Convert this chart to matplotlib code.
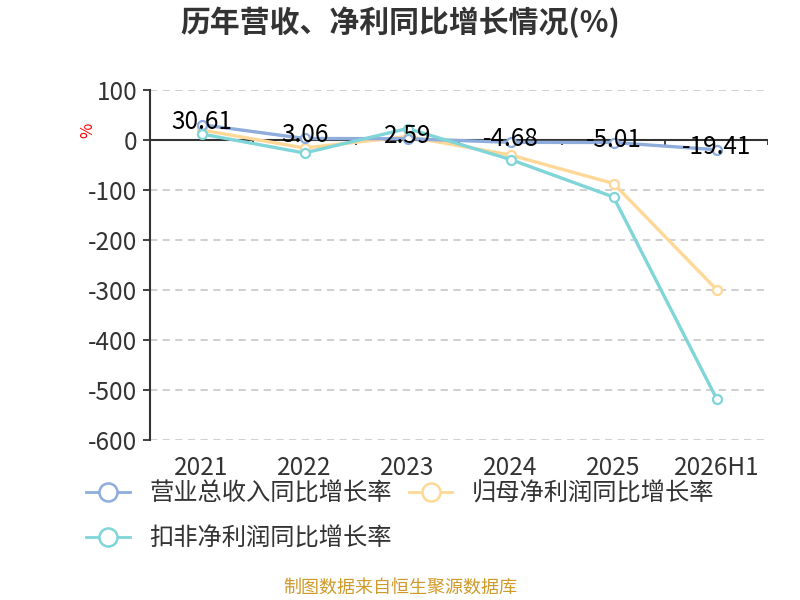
import matplotlib
matplotlib.use("Agg")
import matplotlib.pyplot as plt
from matplotlib.lines import Line2D
import numpy as np

plt.rcParams['font.family'] = ['Noto Sans CJK SC', 'DejaVu Sans']
plt.rcParams['axes.unicode_minus'] = False

categories = ['2021', '2022', '2023', '2024', '2025', '2026H1']
revenue_growth = [30.61, 3.06, 2.59, -4.68, -5.01, -19.41]
netprofit_growth = [20, -16, 7, -30, -87, -299]
deducted_growth = [12, -26, 23, -39, -114, -517]
series_names = ['营业总收入同比增长率', '归母净利润同比增长率', '扣非净利润同比增长率']
colors = ['#8EADDC', '#FFD796', '#80D5D8']
yticks = [100, 0, -100, -200, -300, -400, -500, -600]

fig = plt.figure(figsize=(8, 6), dpi=100)
ax = fig.add_axes([150/800, 1-440/600, (768-150)/800, (440-90)/600])

x = np.arange(len(categories))
ax.set_xlim(-0.5, len(categories)-0.5)
ax.set_ylim(-600, 100)

for yt in yticks:
    ax.axhline(yt, color='#CCCCCC', lw=1.3, dashes=(4, 3), zorder=1)
ax.axhline(0, color='#333333', lw=1.5, zorder=2)
bounds = np.arange(-0.5, len(categories)+0.5, 1.0)
ax.vlines(bounds[1:], -10, 0, color='#333333', lw=1.3, zorder=2)

for vals, c, z in zip([revenue_growth, netprofit_growth, deducted_growth], colors, [4, 3, 5]):
    ax.plot(x, vals, color=c, lw=2.4, marker='o', markersize=6.5,
            markerfacecolor='white', markeredgecolor=c, markeredgewidth=1.6, zorder=z)

for xi, v in zip(x, revenue_growth):
    ax.annotate(f'{v:.2f}', (xi, v), xytext=(0, 3), textcoords='offset pixels',
                ha='center', va='center', fontsize=17.5, color='#000000', zorder=6)

for s in ['top', 'right', 'bottom']:
    ax.spines[s].set_visible(False)
ax.spines['left'].set_color('#333333')
ax.spines['left'].set_linewidth(1.5)

ax.set_yticks(yticks)
ax.set_yticklabels([str(t) for t in yticks])
ax.tick_params(axis='y', length=5, width=1.3, color='#333333', labelsize=17.5, labelcolor='#333333', pad=4)
ax.set_xticks(x)
ax.set_xticklabels(categories)
ax.tick_params(axis='x', length=0, labelsize=17.5, labelcolor='#333333', pad=11)

fig.text(0.5, 1-22/600, '历年营收、净利同比增长情况(%)', ha='center', va='center',
         fontsize=21.5, fontweight='bold', color='#333333')
fig.text(88/800, 1-130/600, '%', ha='center', va='center', rotation=90, fontsize=12, color='#FF0000')
fig.text(0.5, 1-588/600, '制图数据来自恒生聚源数据库', ha='center', va='center',
         fontsize=13, color='#D09A2A')

handles = [Line2D([], [], color=c, lw=2, marker='o', markersize=13,
                  markerfacecolor='white', markeredgecolor=c, markeredgewidth=1.8)
           for c in colors]
order = [0, 2, 1]
fig.legend([handles[i] for i in order], [series_names[i] for i in order],
           loc='upper left', bbox_to_anchor=(86/800, 1-481/600),
           ncol=2, frameon=False, fontsize=17.5, handlelength=1.8, handletextpad=0.8,
           columnspacing=0.7, labelspacing=0.75, borderpad=0, borderaxespad=0,
           labelcolor='#333333')

fig.savefig('out.png', dpi=100)
